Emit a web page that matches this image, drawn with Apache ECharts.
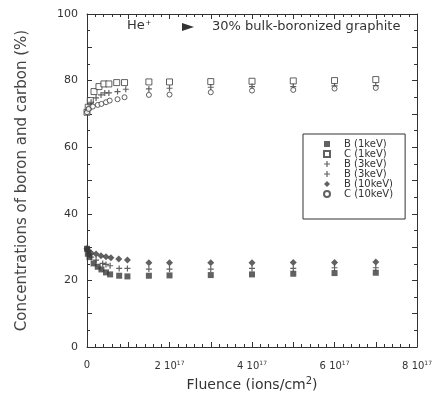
<!DOCTYPE html>
<html>
<head>
<meta charset="utf-8">
<script src="https://cdn.jsdelivr.net/npm/echarts@6/dist/echarts.min.js"></script>
<style>
  html, body { margin: 0; padding: 0; background: #fff; }
  #chart { width: 435px; height: 403px; }
</style>
</head>
<body>
<div id="chart"></div>
<script>
// fluence in units of 1e17 ions/cm2, concentrations in %
const fluenceB1 = [0, 0.02, 0.06, 0.16, 0.26, 0.35, 0.46, 0.56, 0.78, 0.98, 1.5, 2, 3, 4, 5, 6, 7];
const concB1 = [29.5, 28, 27, 25.1, 24.1, 23.3, 22.4, 21.8, 21.4, 21.2, 21.4, 21.5, 21.6, 21.8, 22, 22.2, 22.3];
const fluenceC1 = [0, 0.03, 0.08, 0.17, 0.29, 0.41, 0.53, 0.72, 0.91, 1.5, 2, 3, 4, 5, 6, 7];
const concC1 = [70.5, 72, 74, 76.7, 78.2, 79, 79, 79.4, 79.4, 79.6, 79.6, 79.7, 79.8, 79.9, 80, 80.3];
const fluenceB3 = [0, 0.05, 0.1, 0.22, 0.38, 0.46, 0.56, 0.78, 0.98, 1.5, 2, 3, 4, 5, 6, 7];
const concB3 = [29.3, 28, 27, 26.1, 25.1, 24.8, 24.4, 23.6, 23.6, 23.4, 23.4, 23.4, 23.6, 23.6, 23.8, 23.8];
const fluenceC3 = [0, 0.05, 0.1, 0.22, 0.34, 0.43, 0.53, 0.74, 0.94, 1.5, 2, 3, 4, 5, 6, 7];
const concC3 = [70.7, 72, 73.5, 74.8, 75.7, 76.3, 76.3, 76.7, 77.4, 77.5, 77.7, 78, 78.2, 78.2, 78.4, 78.5];
const fluenceB10 = [0, 0.03, 0.1, 0.22, 0.34, 0.46, 0.58, 0.77, 0.98, 1.5, 2, 3, 4, 5, 6, 7];
const concB10 = [29.6, 29, 28.2, 27.9, 27.4, 27.1, 26.8, 26.4, 26.1, 25.3, 25.3, 25.3, 25.3, 25.4, 25.4, 25.5];
const fluenceC10 = [0, 0.04, 0.14, 0.26, 0.35, 0.46, 0.55, 0.74, 0.91, 1.5, 2, 3, 4, 5, 6, 7];
const concC10 = [70.5, 71.5, 72.2, 72.7, 73, 73.5, 74, 74.4, 75, 75.7, 75.8, 76.5, 77, 77.2, 77.6, 77.8];

const seriesNames = ["B (1keV)", "C (1keV)", "B (3keV)", "C (3keV)", "B (10keV)", "C (10keV)"];
// the legend in the figure prints "B (3keV)" on both 3 keV rows
const legendLabels = ["B (1keV)", "C (1keV)", "B (3keV)", "B (3keV)", "B (10keV)", "C (10keV)"];
const xTickLabels = ["0", "2", "4", "6", "8"];

const ink = "#333";
const markColor = "#3a3a3a";
const plusPath = "path://M4,0H6V4H10V6H6V10H4V6H0V4H4Z";
const fontFamily = "DejaVu Sans";

const zip = (xs, ys) => xs.map((x, i) => [x, ys[i]]);

const myChart = echarts.init(document.getElementById("chart"));

const mkSeries = (name, xs, ys, symbol, size, filled) => ({
  name: name,
  type: "scatter",
  data: zip(xs, ys),
  symbol: symbol,
  symbolSize: size,
  itemStyle: filled
    ? { color: markColor }
    : { color: "#fff", borderColor: markColor, borderWidth: 1 },
  emphasis: { disabled: true },
});

const sharedX = {
  type: "value",
  min: 0,
  max: 8,
  interval: 1,
  axisLine: { show: true, onZero: false, lineStyle: { color: ink, width: 1 } },
  axisTick: { show: true, inside: true, length: 5, lineStyle: { color: ink } },
  minorTick: { show: true, splitNumber: 5, length: 3, lineStyle: { color: ink } },
  splitLine: { show: false },
};
const sharedY = {
  type: "value",
  min: 0,
  max: 100,
  interval: 10,
  axisLine: { show: true, onZero: false, lineStyle: { color: ink, width: 1 } },
  axisTick: { show: true, inside: true, length: 5, lineStyle: { color: ink } },
  minorTick: { show: true, splitNumber: 2, length: 3, lineStyle: { color: ink } },
  splitLine: { show: false },
};

let option = {
  animation: false,
  backgroundColor: "#fff",
  textStyle: { fontFamily: fontFamily },
  grid: { left: 87, right: 13, top: 14, bottom: 56 },
  legend: {
    orient: "vertical",
    left: 303,
    top: 134,
    data: seriesNames,
    formatter: (name) => legendLabels[seriesNames.indexOf(name)],
    itemWidth: 6,
    itemHeight: 6,
    itemGap: 0,
    padding: [5, 12, 20, 20],
    borderColor: ink,
    borderWidth: 1,
    selectedMode: false,
    textStyle: { fontSize: 10, color: ink, lineHeight: 10, padding: [0, 0, 0, 9] },
  },
  xAxis: [
    Object.assign({}, sharedX, {
      position: "bottom",
      name: "Fluence (ions/cm{sup|2})",
      nameLocation: "middle",
      nameGap: 29,
      nameTextStyle: {
        fontSize: 14,
        color: ink,
        rich: { sup: { fontSize: 10, verticalAlign: "top", padding: [0, 0, 8, 0], color: ink } },
      },
      axisLabel: {
        margin: 13,
        fontSize: 10,
        color: ink,
        formatter: (v) => {
          if (v === 0) return "0";
          return xTickLabels.includes(String(v)) ? v + " 10{s|17}" : "";
        },
        rich: { s: { fontSize: 6, verticalAlign: "top", padding: [0, 0, 6, 0], color: ink } },
      },
    }),
    Object.assign({}, sharedX, { position: "top", axisLabel: { show: false } }),
  ],
  yAxis: [
    Object.assign({}, sharedY, {
      position: "left",
      name: "Concentrations of boron and carbon (%)",
      nameLocation: "middle",
      nameGap: 57,
      nameTextStyle: { fontSize: 15, color: "#444" },
      axisLabel: {
        margin: 9,
        fontSize: 11,
        color: ink,
        formatter: (v) => (v % 20 === 0 ? String(v) : ""),
      },
    }),
    Object.assign({}, sharedY, { position: "right", axisLabel: { show: false } }),
  ],
  graphic: [
    {
      type: "text",
      left: 127,
      top: 19,
      style: {
        text: "He{s|+}",
        font: "13px DejaVu Sans",
        fill: ink,
        rich: { s: { fontSize: 9, verticalAlign: "top", padding: [0, 0, 5, 1], fill: ink } },
      },
    },
    {
      type: "polygon",
      shape: { points: [[182, 23], [194, 27], [182, 31]] },
      style: { fill: ink },
    },
    {
      type: "text",
      left: 212,
      top: 20,
      style: { text: "30% bulk-boronized graphite", font: "13px DejaVu Sans", fill: ink },
    },
  ],
  series: [
    mkSeries(seriesNames[0], fluenceB1, concB1, "rect", 6, true),
    mkSeries(seriesNames[1], fluenceC1, concC1, "rect", 6, false),
    mkSeries(seriesNames[2], fluenceB3, concB3, plusPath, 6, true),
    mkSeries(seriesNames[3], fluenceC3, concC3, plusPath, 6, true),
    mkSeries(seriesNames[4], fluenceB10, concB10, "diamond", 7, true),
    mkSeries(seriesNames[5], fluenceC10, concC10, "circle", 5, false),
  ],
};

option && myChart.setOption(option);
</script>
</body>
</html>
